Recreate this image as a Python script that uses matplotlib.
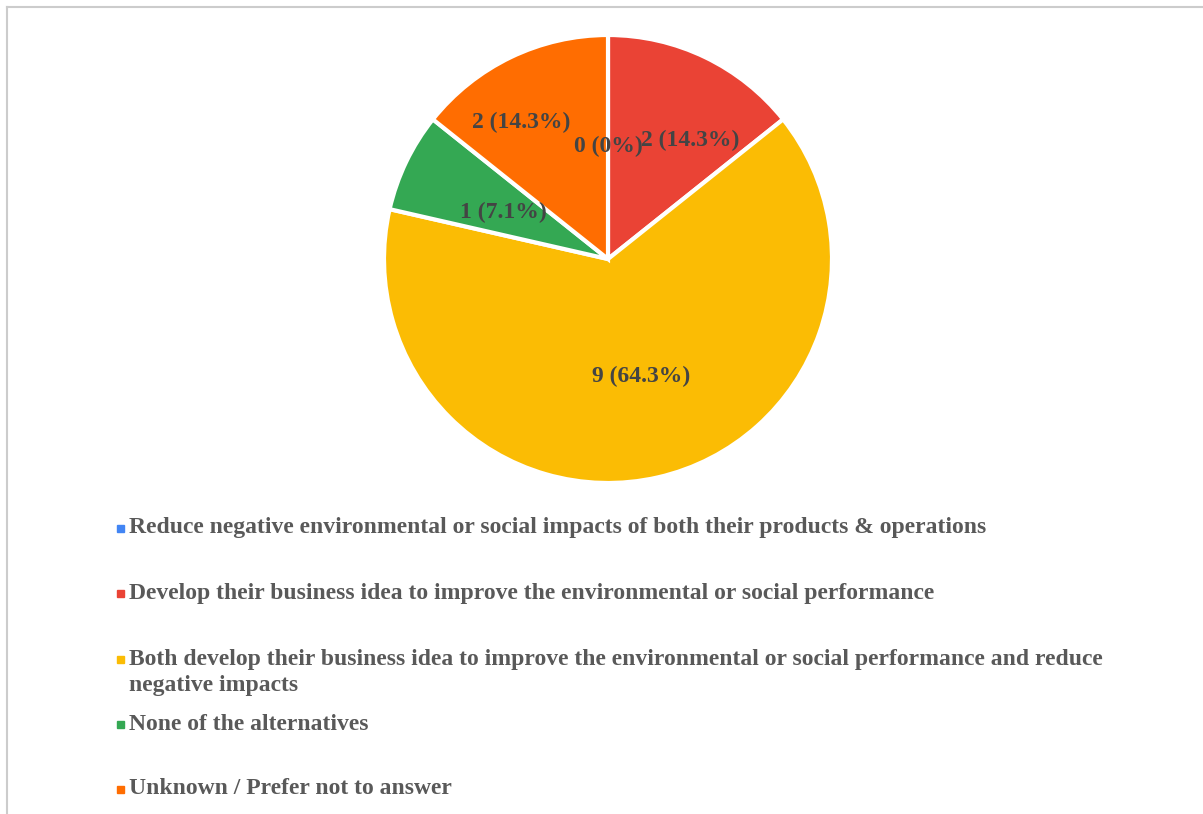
import matplotlib
matplotlib.use("Agg")
import matplotlib.pyplot as plt
import numpy as np
from matplotlib.lines import Line2D
from matplotlib.patches import Rectangle

# survey answers
categories = [
    "Reduce negative environmental or social impacts of both their products & operations",
    "Develop their business idea to improve the environmental or social performance",
    "Both develop their business idea to improve the environmental or social performance and reduce\nnegative impacts",
    "None of the alternatives",
    "Unknown / Prefer not to answer",
]
counts = [0, 2, 9, 1, 2]
colors = ["#4285F4", "#EA4335", "#FBBC04", "#34A853", "#FF6D01"]

# label placement: radius (fraction of pie radius) and angle nudge (deg) per slice
label_r = [0.52, 0.66, 0.53, 0.52, 0.74]
label_nudge = [0, -8, 3.5, 0, 6]
# legend row positions (pixels from top, first line of each item)
legend_y = [528, 593, 659, 724, 789]
line_h = 27

W, H = 1203, 814
fig = plt.figure(figsize=(W / 100, H / 100), dpi=100)
fig.patch.set_facecolor("white")

cx, cy, r = 608, 259, 224
ax = fig.add_axes([(cx - r) / W, (H - cy - r) / H, 2 * r / W, 2 * r / H])
wedges, _ = ax.pie(counts, colors=colors, startangle=90, counterclock=False,
                   radius=1, wedgeprops=dict(edgecolor="white", linewidth=3))
ax.set_xlim(-1, 1)
ax.set_ylim(-1, 1)
ax.set_aspect("equal")
ax.axis("off")

total = sum(counts)
font = dict(family="Liberation Serif", weight="bold", color="#444444")
dy = 4 / r  # small downward shift of the labels
for w, c, lr, nd in zip(wedges, counts, label_r, label_nudge):
    mid = np.deg2rad((w.theta1 + w.theta2) / 2 + nd)
    pct = 100 * c / total
    txt = f"{c} ({pct:.1f}%)" if c else "0 (0%)"
    ax.text(lr * np.cos(mid), lr * np.sin(mid) - dy, txt, ha="center", va="center",
            fontsize=17, **font)

# legend
for lab, col, y in zip(categories, colors, legend_y):
    n = lab.count("\n")
    fig.patches.append(Rectangle((117 / W, 1 - (y + 4) / H), 7 / W, 7 / H,
                                 transform=fig.transFigure, color=col))
    fig.text(129 / W, 1 - (y + n * line_h / 2) / H, lab, ha="left", va="center",
             fontsize=17, family="Liberation Serif", weight="bold", color="#595959",
             linespacing=1.3)

# frame on top/left edge
fig.add_artist(Line2D([7 / W, 7 / W], [0, 1 - 7 / H], color="#cccccc", lw=1.5,
                      transform=fig.transFigure))
fig.add_artist(Line2D([7 / W, 1], [1 - 7 / H, 1 - 7 / H], color="#cccccc", lw=1.5,
                      transform=fig.transFigure))

fig.savefig("out.png", dpi=100, facecolor="white")
